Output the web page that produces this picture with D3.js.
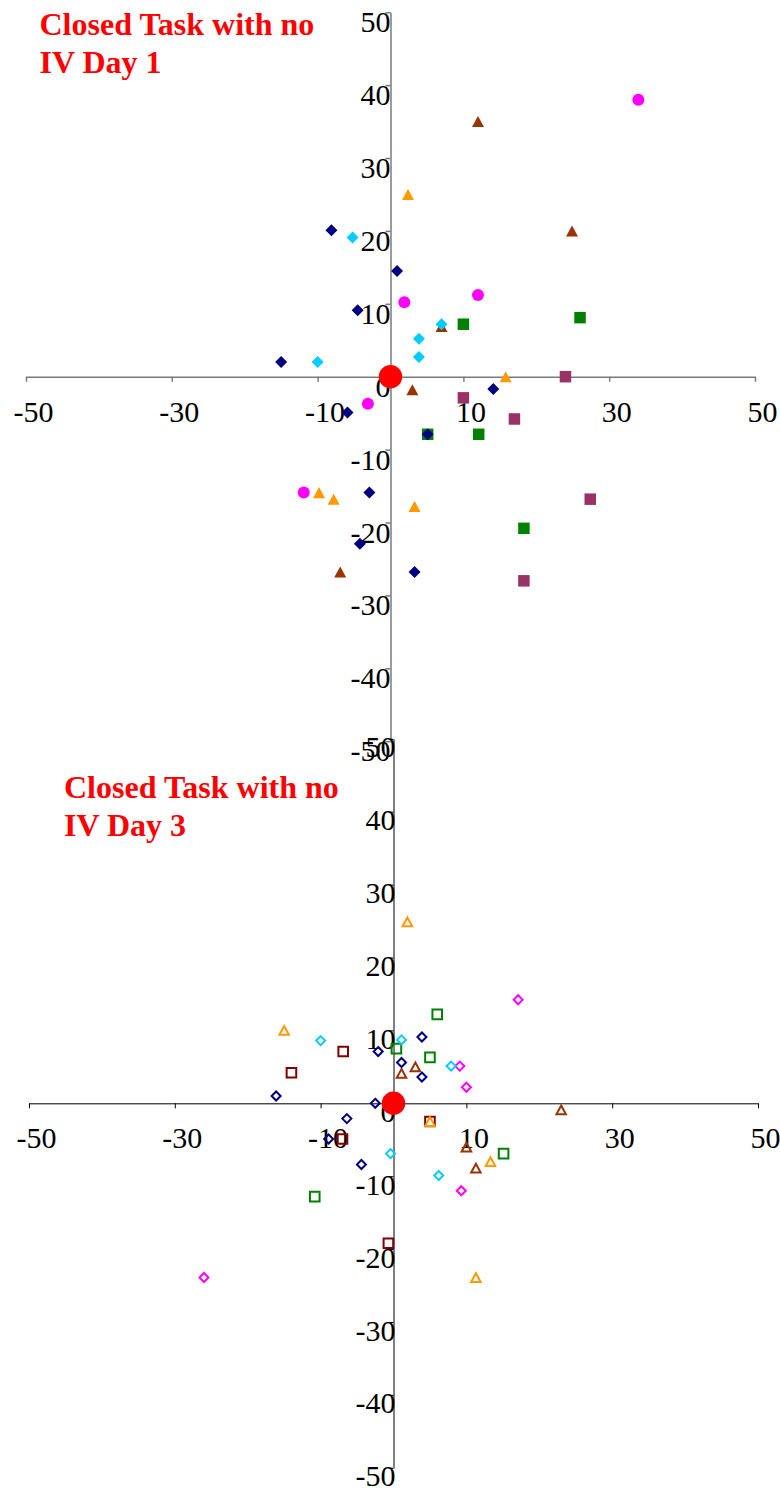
<!DOCTYPE html>
<html><head><meta charset="utf-8">
<script src="https://cdn.jsdelivr.net/npm/d3@7"></script>
<style>body{margin:0;background:#fff}svg{display:block}</style>
</head><body>
<svg id="c" width="780" height="1489"></svg>
<script>
// ---- tick labels ----
const xTickValues = [-50, -30, -10, 10, 30, 50];
const yTickValues = [-50, -40, -30, -20, -10, 0, 10, 20, 30, 40, 50];

// ---- titles ----
const titleDay1 = ["Closed Task with no", "IV Day 1"];
const titleDay3 = ["Closed Task with no", "IV Day 3"];

// ---- Day 1 series (filled markers) ----
const day1Green  = [[26, 8.1], [10, 7.2], [5.1, -7.9], [12.1, -7.9], [18.3, -20.8]];
const day1Purple = [[24, 0], [10, -2.9], [17, -5.8], [27.4, -16.8], [18.3, -28]];
const day1Brown  = [[12, 35], [24.9, 20], [7, 6.9], [3, -1.8], [-6.9, -26.8]];
const day1Orange = [[2.4, 25], [15.8, 0], [-9.8, -15.9], [-7.8, -16.8], [3.3, -17.8]];
const day1Magenta= [[34, 38], [1.9, 10.2], [12, 11.2], [-3.1, -3.7], [-11.9, -15.9]];
const day1Navy   = [[-8.1, 20.1], [0.9, 14.5], [-4.5, 9.1], [-15, 2], [-5.9, -4.9], [14.1, -1.7], [5.1, -7.9], [-2.9, -15.9], [-4.2, -22.9], [3.3, -26.8]];
const day1Cyan   = [[-5.2, 19.1], [-10, 2], [7, 7.2], [3.9, 5.2], [3.9, 2.7]];
const day1Origin = [[0, 0]];

// ---- Day 3 series (hollow markers) ----
const day3Green  = [[6, 12.2], [0.4, 7.5], [5, 6.3], [15.1, -6.9], [-10.8, -12.8]];
const day3DarkRed= [[-6.9, 7.1], [-14, 4.2], [-7, -4.9], [5, -2.5], [-0.7, -19.2]];
const day3Brown  = [[3, 5], [1.1, 4.1], [23, -0.9], [10, -6], [11.3, -8.9]];
const day3Orange = [[1.9, 24.9], [-15, 10], [5, -2.5], [13.3, -8], [11.3, -23.9]];
const day3Magenta= [[17.1, 14.2], [9.1, 5.1], [10, 2.2], [9.3, -12], [-26, -23.9]];
const day3Navy   = [[-2.1, 7.1], [-16.1, 1], [-2.5, 0], [-6.4, -2.1], [-8.9, -4.9], [3.9, 9.1], [1.1, 5.6], [3.9, 3.6], [-4.4, -8.4]];
const day3Cyan   = [[-10, 8.6], [-0.4, -6.9], [1.1, 8.7], [7.9, 5.1], [6.2, -9.9]];
const day3Origin = [[0, 0]];

function shape(kind, w) {
  const p = d3.path(), h = w / 2;
  if (kind === "diamond") { p.moveTo(0, -h); p.lineTo(h, 0); p.lineTo(0, h); p.lineTo(-h, 0); p.closePath(); }
  else if (kind === "square") { p.rect(-h, -h, w, w); }
  else if (kind === "triangle") { const t = w * 0.46; p.moveTo(0, -t); p.lineTo(h, t); p.lineTo(-h, t); p.closePath(); }
  else { p.arc(0, 0, h, 0, 2 * Math.PI); p.closePath(); }
  return p.toString();
}

const svg = d3.select("#c");
const FONT = "'Liberation Serif','Times New Roman',serif";

function panel(cfg) {
  const x = d3.scaleLinear().domain([-50, 50]).range(cfg.xr);
  const y = d3.scaleLinear().domain([-50, 50]).range(cfg.yr);
  const g = svg.append("g");

  // titles
  const t = g.append("text").attr("font-family", FONT).attr("font-weight", "bold")
    .attr("font-size", 32).attr("fill", "#FF0000");
  cfg.title.forEach((s, i) => t.append("tspan").attr("x", cfg.tx).attr("y", cfg.ty + i * 38).text(s));

  // x axis
  const gx = g.append("g").attr("transform", `translate(0,${y(0)})`)
    .call(d3.axisBottom(x).tickValues(xTickValues).tickSize(5).tickSizeOuter(0).tickFormat(d3.format("d")));
  // y axis
  const gy = g.append("g").attr("transform", `translate(${x(0)},0)`)
    .call(d3.axisLeft(y).tickValues(yTickValues).tickSize(5).tickSizeOuter(0).tickFormat(d3.format("d")));

  [gx, gy].forEach(a => {
    a.select(".domain").attr("stroke", cfg.axisColor).attr("stroke-width", cfg.axisWidth);
    a.selectAll(".tick line").attr("stroke", cfg.axisColor).attr("stroke-width", cfg.axisWidth);
    a.selectAll(".tick text").attr("font-family", FONT).attr("font-size", 30).attr("fill", "#000")
      .text(d => d < 0 ? "-" + Math.abs(d) : String(d));
  });
  gx.selectAll(".tick text").attr("x", 7).attr("y", 45).attr("dy", null).attr("text-anchor", "middle");
  gy.selectAll(".tick text").attr("x", cfg.yLabelDx).attr("y", cfg.yLabelDy).attr("dy", null).attr("text-anchor", "end");
  gx.attr("font-size", null).attr("font-family", null);
  gy.attr("font-size", null).attr("font-family", null);

  // markers
  cfg.series.forEach(s => {
    g.append("g").selectAll("path").data(s.data).join("path")
      .attr("transform", d => `translate(${x(d[0])},${y(d[1])})`)
      .attr("d", shape(s.kind, s.size))
      .attr("fill", s.hollow ? "none" : s.color)
      .attr("stroke", s.hollow ? s.color : "none")
      .attr("stroke-width", s.hollow ? 2 : 0);
  });
}

panel({
  xr: [26, 755], yr: [741.2, 12.2], title: titleDay1, tx: 39.5, ty: 35,
  axisColor: "#7a7a7a", axisWidth: 1.5, yLabelDx: 0, yLabelDy: 19.5,
  series: [
    { data: day1Green, kind: "square", size: 11.5, color: "#008000" },
    { data: day1Purple, kind: "square", size: 11.5, color: "#993366" },
    { data: day1Brown, kind: "triangle", size: 12, color: "#993300" },
    { data: day1Orange, kind: "triangle", size: 12, color: "#FF9900" },
    { data: day1Magenta, kind: "circle", size: 12, color: "#FF00FF" },
    { data: day1Navy, kind: "diamond", size: 12, color: "#000080" },
    { data: day1Cyan, kind: "diamond", size: 12, color: "#00CCFF" },
    { data: day1Origin, kind: "circle", size: 23.5, color: "#FF0000" }
  ]
});

panel({
  xr: [29, 758], yr: [1467.8, 738.8], title: titleDay3, tx: 64, ty: 798.3,
  axisColor: "#000", axisWidth: 1, yLabelDx: 2, yLabelDy: 18,
  series: [
    { data: day3Green, kind: "square", size: 9.6, color: "#008000", hollow: true },
    { data: day3DarkRed, kind: "square", size: 9.6, color: "#800000", hollow: true },
    { data: day3Brown, kind: "triangle", size: 9.5, color: "#993300", hollow: true },
    { data: day3Orange, kind: "triangle", size: 9.5, color: "#FF9900", hollow: true },
    { data: day3Magenta, kind: "diamond", size: 9, color: "#FF00FF", hollow: true },
    { data: day3Navy, kind: "diamond", size: 9, color: "#000080", hollow: true },
    { data: day3Cyan, kind: "diamond", size: 9, color: "#00CCFF", hollow: true },
    { data: day3Origin, kind: "circle", size: 23.5, color: "#FF0000" }
  ]
});
</script>
</body></html>
